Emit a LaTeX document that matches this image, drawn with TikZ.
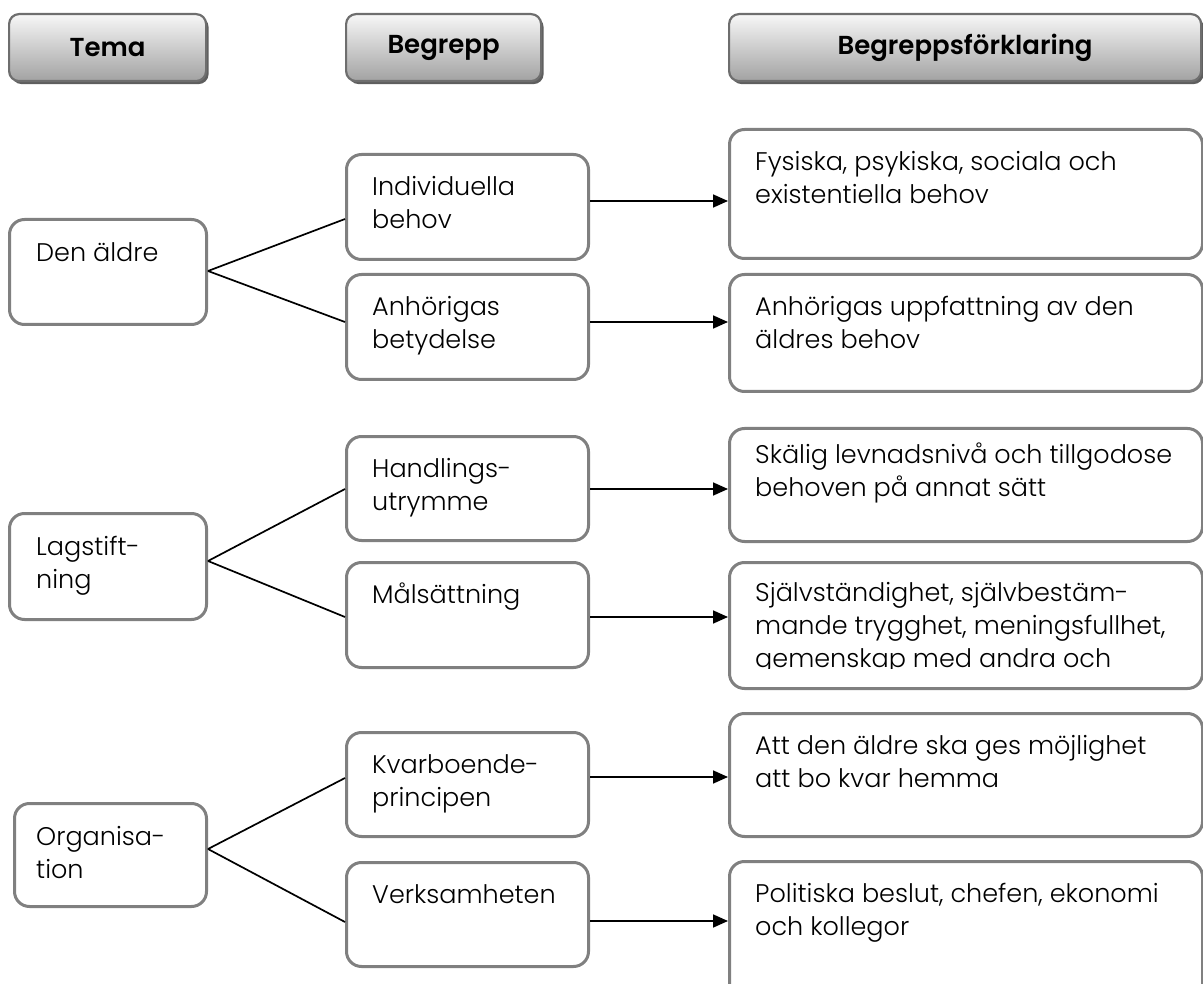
\documentclass[tikz,border=0pt]{standalone}
\usepackage{fontspec}
\setmainfont{Poppins}[UprightFont=* Light, BoldFont=* SemiBold]
\usetikzlibrary{arrows.meta,shadows}
\definecolor{boxline}{HTML}{808080}
\definecolor{hdrline}{HTML}{6E6E6E}
\definecolor{hdrtop}{HTML}{F7F7F7}
\definecolor{hdrbot}{HTML}{A2A2A2}
\definecolor{hdrshadow}{HTML}{5E5E5E}
\newcommand\bodyfont{\fontsize{25.5}{33}\selectfont}
\newcommand\hdrfont{\fontsize{26}{30}\selectfont\bfseries}
\newcommand\topstrut{\rule{0pt}{24pt}}
\tikzset{
  box/.style={draw=boxline, line width=3pt, rounded corners=15pt, fill=white,
    anchor=north west, inner sep=0pt},
  hdr/.style={draw=hdrline, line width=2.2pt, rounded corners=10pt,
    top color=hdrtop, bottom color=hdrbot, anchor=north west, inner sep=0pt,
    font=\hdrfont, text=black,
    drop shadow={shadow xshift=2.5pt, shadow yshift=-3pt, fill=hdrshadow, opacity=1}},
  txt/.style={anchor=north west, inner sep=0pt, align=left, font=\bodyfont},
  link/.style={line width=1.7pt, black},
  arr/.style={line width=1.7pt, black, -{Triangle[length=15pt,width=13pt]}}
}
\begin{document}
\begin{tikzpicture}[x=1pt,y=-1pt]
\useasboundingbox (0,0) rectangle (1203,984);
% headers
\node[hdr, minimum width=197pt, minimum height=67pt] (h1) at (8,13) {Tema};
\node[hdr, minimum width=195pt, minimum height=67pt] (h2) at (345,13) {Begrepp};
\node[hdr, minimum width=472pt, minimum height=67pt] (h3) at (728,13) {Begreppsförklaring};
% left boxes
\node[box, minimum width=197pt, minimum height=105pt] (L1) at (8,218) {};
\node[box, minimum width=197pt, minimum height=106pt] (L2) at (8,512) {};
\node[box, minimum width=192pt, minimum height=103pt] (L3) at (13,802) {};
\node[txt] (L1t) at ([xshift=28pt,yshift=-19pt]L1.north west) {\topstrut Den äldre};
\node[txt] (L2t) at ([xshift=28pt,yshift=-19pt]L2.north west) {\topstrut Lagstift-\\ning};
\node[txt] (L3t) at ([xshift=23pt,yshift=-19pt]L3.north west) {\topstrut Organisa-\\tion};
% middle boxes
\node[box, minimum width=242pt, minimum height=105pt] (M1) at (345,153) {};
\node[box, minimum width=242pt, minimum height=105pt] (M2) at (345,273) {};
\node[box, minimum width=242pt, minimum height=104pt] (M3) at (345,435) {};
\node[box, minimum width=242pt, minimum height=105pt] (M4) at (345,561) {};
\node[box, minimum width=242pt, minimum height=104pt] (M5) at (345,731) {};
\node[box, minimum width=242pt, minimum height=104pt] (M6) at (345,861) {};
\node[txt] (M1t) at ([xshift=27pt,yshift=-18pt]M1.north west) {\topstrut Individuella\\behov};
\node[txt] (M2t) at ([xshift=27pt,yshift=-18pt]M2.north west) {\topstrut Anhörigas\\betydelse};
\node[txt] (M3t) at ([xshift=27pt,yshift=-18pt]M3.north west) {\topstrut Handlings-\\utrymme};
\node[txt] (M4t) at ([xshift=27pt,yshift=-18pt]M4.north west) {\topstrut Målsättning};
\node[txt] (M5t) at ([xshift=27pt,yshift=-18pt]M5.north west) {\topstrut Kvarboende-\\principen};
\node[txt] (M6t) at ([xshift=27pt,yshift=-18pt]M6.north west) {\topstrut Verksamheten};
% right boxes
\node[box, minimum width=473pt, minimum height=129pt] (R1) at (728,128) {};
\node[box, minimum width=473pt, minimum height=117pt] (R2) at (728,273) {};
\node[box, minimum width=473pt, minimum height=113pt] (R3) at (728,427) {};
\node[box, minimum width=473pt, minimum height=126pt] (R4) at (728,561) {};
\node[box, minimum width=473pt, minimum height=123pt] (R5) at (728,712) {};
\node[box, minimum width=473pt, minimum height=140pt] (R6) at (728,860) {};
\node[txt] (R1t) at ([xshift=27pt,yshift=-18pt]R1.north west) {\topstrut Fysiska, psykiska, sociala och\\existentiella behov};
\node[txt] (R2t) at ([xshift=27pt,yshift=-18pt]R2.north west) {\topstrut Anhörigas uppfattning av den\\äldres behov};
\node[txt] (R3t) at ([xshift=27pt,yshift=-12pt]R3.north west) {\topstrut Skälig levnadsnivå och tillgodose\\behoven på annat sätt};
\begin{scope}
\clip (728,561) rectangle (1201,668);
\node[txt] (R4t) at ([xshift=27pt,yshift=-16pt]R4.north west) {\topstrut Självständighet, självbestäm-\\mande trygghet, meningsfullhet,\\gemenskap med andra och};
\end{scope}
\node[txt] (R5t) at ([xshift=27pt,yshift=-18pt]R5.north west) {\topstrut Att den äldre ska ges möjlighet\\att bo kvar hemma};
\node[txt] (R6t) at ([xshift=27pt,yshift=-18pt]R6.north west) {\topstrut Politiska beslut, chefen, ekonomi\\och kollegor};
% connectors tema -> begrepp
\draw[link] ([yshift=-53pt]L1.north east) -- ([yshift=-66pt]M1.north west);
\draw[link] ([yshift=-53pt]L1.north east) -- ([yshift=-49pt]M2.north west);
\draw[link] ([yshift=-49pt]L2.north east) -- ([yshift=-54pt]M3.north west);
\draw[link] ([yshift=-49pt]L2.north east) -- ([yshift=-56pt]M4.north west);
\draw[link] ([yshift=-47pt]L3.north east) -- ([yshift=-47pt]M5.north west);
\draw[link] ([yshift=-47pt]L3.north east) -- ([yshift=-61pt]M6.north west);
% arrows begrepp -> förklaring
\draw[arr] ([yshift=-48pt]M1.north east) -- ([yshift=-73pt]R1.north west);
\draw[arr] ([yshift=-49pt]M2.north east) -- ([yshift=-49pt]R2.north west);
\draw[arr] ([yshift=-54pt]M3.north east) -- ([yshift=-62pt]R3.north west);
\draw[arr] ([yshift=-56pt]M4.north east) -- ([yshift=-56pt]R4.north west);
\draw[arr] ([yshift=-46pt]M5.north east) -- ([yshift=-65pt]R5.north west);
\draw[arr] ([yshift=-60pt]M6.north east) -- ([yshift=-61pt]R6.north west);
\end{tikzpicture}
\end{document}
